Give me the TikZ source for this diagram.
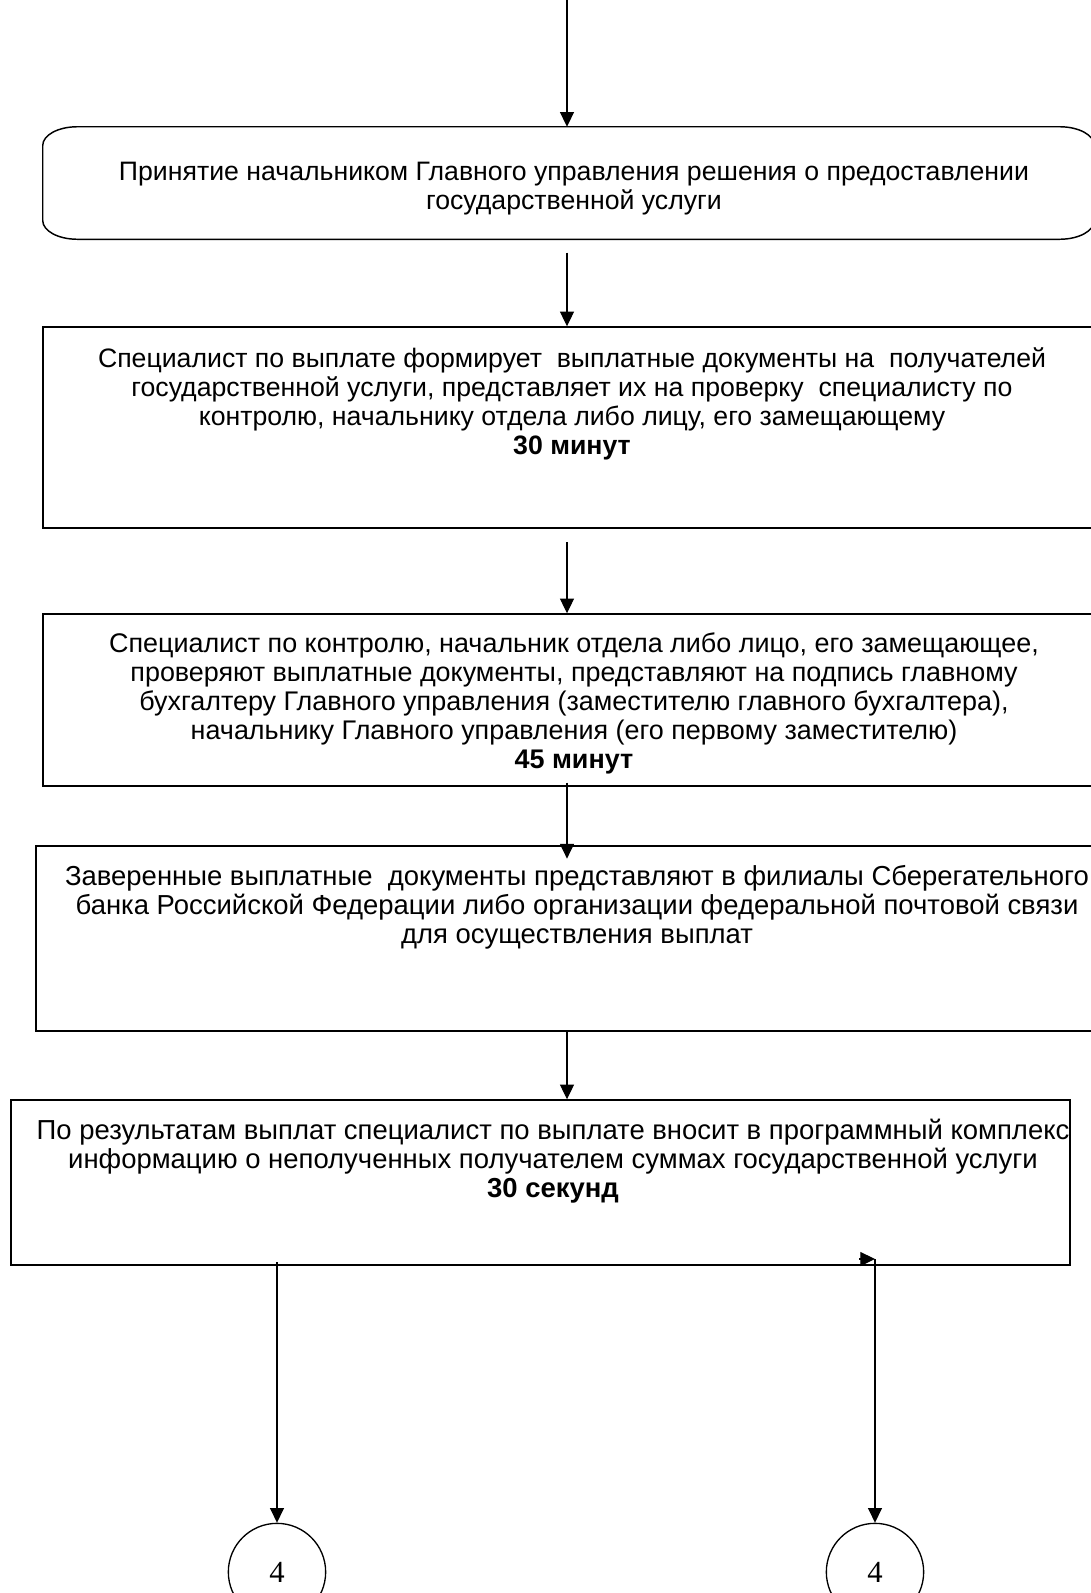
\documentclass[tikz,border=0pt]{standalone}
\usepackage{fontspec}
\setmainfont{Liberation Sans}
\newfontfamily\numfont{Liberation Serif}
\usepackage{tikz}
\usetikzlibrary{arrows.meta, fit, calc}

\begin{document}
\begin{tikzpicture}[
        x=0.75pt, y=-0.75pt,
        box/.style={rectangle, draw=black, line width=1.1pt, inner sep=0pt},
        frame/.style={rectangle, draw=none, inner sep=0pt},
        txt/.style={anchor=north, align=center, inner sep=0pt,
                    font=\fontsize{20}{21.8}\selectfont},
        arrow/.style={-{Triangle[length=11pt, width=10.5pt]}, line width=0.8pt},
        conn/.style={circle, draw=black, line width=1pt, minimum size=73pt,
                     inner sep=0pt, font=\numfont\fontsize{23}{26}\selectfont}
    ]
        \useasboundingbox (0,0) rectangle (1091,1593);

        % boxes
        \node[frame, fit={(43,127) (1094,239)}] (decision) {};
        \draw[line width=1.1pt] ([xshift=26pt]decision.north west) -- ([xshift=-26pt]decision.north east)
            arc[start angle=90, end angle=0, x radius=26pt, y radius=14pt]
            -- ([yshift=14pt]decision.south east)
            arc[start angle=0, end angle=-90, x radius=26pt, y radius=14pt]
            -- ([xshift=26pt]decision.south west)
            arc[start angle=270, end angle=180, x radius=26pt, y radius=14pt]
            -- ([yshift=-14pt]decision.north west)
            arc[start angle=180, end angle=90, x radius=26pt, y radius=14pt] -- cycle;
        \node[box, fit={(43,327) (1100,528)}] (forming) {};
        \node[box, fit={(43,614) (1100,786)}] (checking) {};
        \node[box, fit={(36,846) (1100,1031)}] (bank) {};
        \node[box, fit={(11,1100) (1070,1265)}] (results) {};

        % texts
        \node[txt] (decisiontext) at (574,162) {Принятие начальником Главного управления решения о предоставлении\\государственной услуги};
        \node[txt] (formingtext) at (572,347) {Специалист по выплате формирует \ выплатные документы на \ получателей\\государственной услуги, представляет их на проверку \ специалисту по\\контролю, начальнику отдела либо лицу, его замещающему\\\textbf{30 минут}};
        \node[txt, font=\fontsize{20.2}{21.8}\selectfont] (checkingtext) at (574,632) {Специалист по контролю, начальник отдела либо лицо, его замещающее,\\проверяют выплатные документы, представляют на подпись главному\\бухгалтеру Главного управления (заместителю главного бухгалтера),\\начальнику Главного управления (его первому заместителю)\\\textbf{45 минут}};
        \node[txt, font=\fontsize{20.6}{21.8}\selectfont] (banktext) at (577,865) {Заверенные выплатные \ документы представляют в филиалы Сберегательного\\банка Российской Федерации либо организации федеральной почтовой связи\\для осуществления выплат};
        \node[txt, font=\fontsize{20.6}{21.8}\selectfont] (resultstext) at (553,1119) {По результатам выплат специалист по выплате вносит в программный комплекс\\информацию о неполученных получателем суммах государственной услуги\\\textbf{30 секунд}};

        % connectors
        \node[conn] (next1) at (277,1572) {4};
        \node[conn] (next2) at (875,1572) {4};
        \coordinate (start) at (567,0);
        \coordinate (leftout) at (277,1262);
        \coordinate (rightout) at (875,1259);

        \draw[arrow] (start) -- (start |- decision.north);
        \draw[arrow] ([yshift=-10pt]decision.south -| start) -- (forming.north -| start);
        \draw[arrow] ([yshift=-10pt]forming.south -| start) -- (checking.north -| start);
        \draw[arrow] ([yshift=3pt]checking.south -| start) -- ([yshift=-10pt]bank.north -| start);
        \draw[arrow] (bank.south -| start) -- (results.north -| start);
        \draw[arrow] (leftout) -- (next1.north);
        \draw[arrow] (rightout) -- (next2.north);
        \draw[arrow] ([xshift=-12pt]rightout) -- (rightout);
    \end{tikzpicture}
\end{document}
